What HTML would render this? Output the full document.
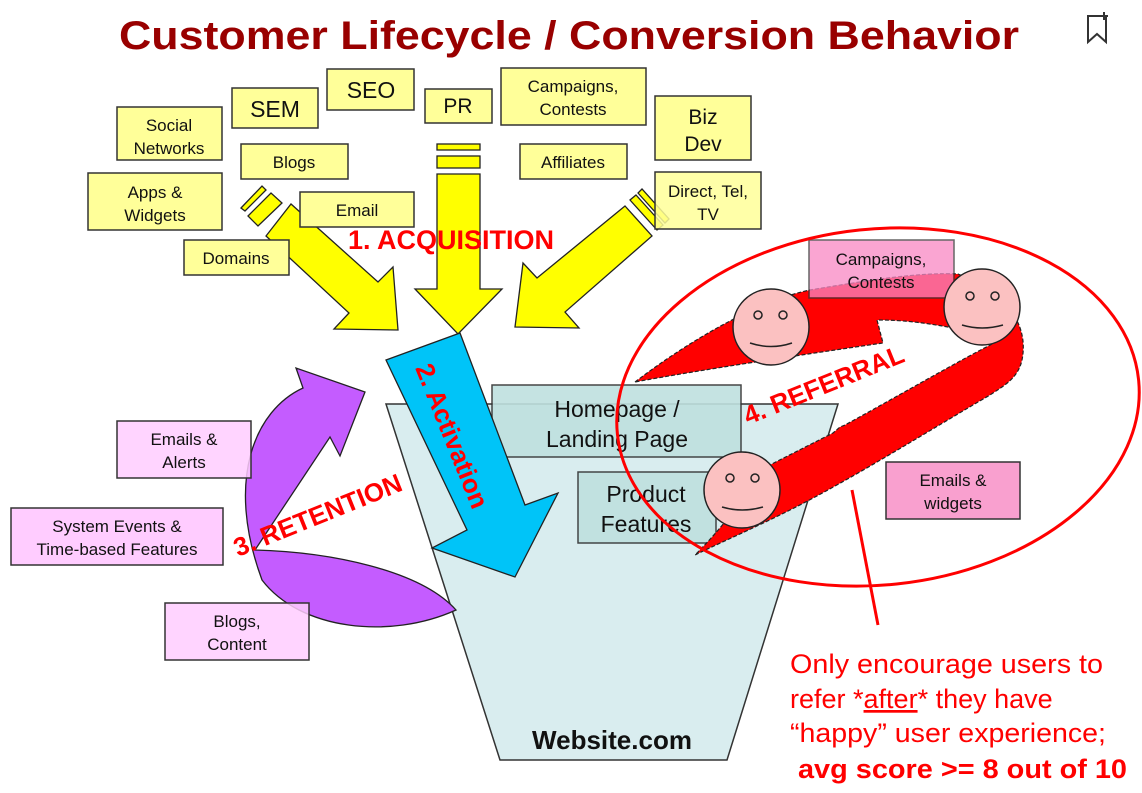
<!DOCTYPE html>
<html><head><meta charset="utf-8"><style>
html,body{margin:0;padding:0;background:#fff;}
svg{display:block;font-family:"Liberation Sans",Arial,sans-serif;}
</style></head><body>
<svg width="1142" height="793" viewBox="0 0 1142 793" xmlns="http://www.w3.org/2000/svg">
<rect width="1142" height="793" fill="#fff"/>
<text x="569" y="49" font-size="40" font-weight="bold" fill="#990000" text-anchor="middle" textLength="900" lengthAdjust="spacingAndGlyphs">Customer Lifecycle / Conversion Behavior</text>
<path d="M1088 16 h18 v26 l-9 -8 l-9 8 z" fill="none" stroke="#333" stroke-width="2"/>
<path d="M1104 12 v8 M1100 16 h8" stroke="#333" stroke-width="2"/>

<!-- funnel -->
<polygon points="386,404 838,404 727,760 500,760" fill="#d9edef" stroke="#333" stroke-width="1.5"/>
<rect x="492" y="385" width="249" height="72" fill="#bfe0df" stroke="#333" stroke-width="1.5" opacity="0.9"/>
<rect x="578" y="472" width="138" height="71" fill="#bfe0df" stroke="#333" stroke-width="1.5" opacity="0.9"/>
<text font-size="23" fill="#111" text-anchor="middle"><tspan x="617" y="417">Homepage /</tspan><tspan x="617" y="447">Landing Page</tspan></text>
<text font-size="23" fill="#111" text-anchor="middle"><tspan x="646" y="502">Product</tspan><tspan x="646" y="532">Features</tspan></text>
<text x="612" y="749" font-size="26" font-weight="bold" fill="#111" text-anchor="middle">Website.com</text>

<!-- yellow arrows -->
<g fill="#ffff00" stroke="#222" stroke-width="1.3">
<polygon points="266,236 349,313 334,329 398,330 393,267 378,282 291,204"/>
<polygon points="248,216 271,193 282,203 258,226"/>
<polygon points="241,208 262,186 266,190 245,211"/>
<polygon points="437,174 480,174 480,289 502,289 458,334 415,289 437,289"/>
<rect x="437" y="144" width="43" height="6"/>
<rect x="437" y="156" width="43" height="12"/>
<polygon points="625,206 537,278 523,263 515,327 579,328 565,312 652,236"/>
<polygon points="630,200 657,230 663,225 636,195"/>
<polygon points="638,193 665,223 669,219 642,189"/>
</g>

<!-- purple retention -->
<path d="M255,550 L330,437 L340,456 L365,392 L296,368 L303,388 C255,410 225,480 262,580 C300,630 390,640 456,610 C420,570 330,552 255,550 Z" fill="#c45cff" stroke="#222" stroke-width="1.3"/>

<!-- activation arrow -->
<polygon points="386,360 460,333 525,505 558,493 515,577 432,548 467,530" fill="#00c4f8" stroke="#222" stroke-width="1.3"/>

<!-- red referral -->
<path d="M635,382 C690,340 760,300 810,290 C870,280 920,272 958,274 C1000,290 1030,320 1022,360 C1018,378 1005,385 990,395 C930,430 850,480 790,510 C750,530 715,545 695,555 C720,530 740,505 760,470 L833,433 L840,427 L845,425 C900,395 960,360 1000,340 L948,327 C920,322 900,320 877,320 L883,343 C800,355 700,370 635,382 Z" fill="#ff0000" stroke="#222" stroke-width="1.2" stroke-dasharray="4,2"/>
<rect x="809" y="240" width="145" height="58" fill="#f988c4" stroke="#333" stroke-width="1.5" opacity="0.75"/>
<text font-size="17" fill="#111" text-anchor="middle"><tspan x="881" y="265">Campaigns,</tspan><tspan x="881" y="288">Contests</tspan></text>
<g fill="#fbc1c1" stroke="#222" stroke-width="1.5">
<circle cx="771" cy="327" r="38"/><circle cx="982" cy="307" r="38"/><circle cx="742" cy="490" r="38"/>
</g>
<g fill="none" stroke="#222" stroke-width="1.5">
<circle cx="758" cy="315" r="4"/><circle cx="783" cy="315" r="4"/><path d="M750,343 Q771,350 792,343"/>
<circle cx="970" cy="296" r="4"/><circle cx="995" cy="296" r="4"/><path d="M962,325 Q982,331 1003,325"/>
<circle cx="730" cy="478" r="4"/><circle cx="755" cy="478" r="4"/><path d="M722,507 Q742,513 763,507"/>
</g>
<ellipse cx="878" cy="407" rx="262" ry="178" fill="none" stroke="#ff0000" stroke-width="3" transform="rotate(-6 878 407)"/>
<line x1="852" y1="490" x2="878" y2="625" stroke="#ff0000" stroke-width="3"/>
<rect x="886" y="462" width="134" height="57" fill="#f9a0cf" stroke="#333" stroke-width="1.5"/>
<text font-size="17" fill="#111" text-anchor="middle"><tspan x="953" y="486">Emails &amp;</tspan><tspan x="953" y="509">widgets</tspan></text>

<!-- yellow boxes -->
<g fill="#ffff99" stroke="#333" stroke-width="1.5">
<rect x="117" y="107" width="105" height="53"/>
<rect x="88" y="173" width="134" height="57"/>
<rect x="184" y="240" width="105" height="35"/>
<rect x="232" y="88" width="86" height="40"/>
<rect x="327" y="69" width="87" height="41"/>
<rect x="241" y="144" width="107" height="35"/>
<rect x="300" y="192" width="114" height="35"/>
<rect x="425" y="89" width="67" height="34"/>
<rect x="501" y="68" width="145" height="57"/>
<rect x="520" y="144" width="107" height="35"/>
<rect x="655" y="96" width="96" height="64"/>
<rect x="655" y="172" width="106" height="57" fill-opacity="0.85"/>
</g>
<g font-size="17" fill="#111" text-anchor="middle">
<text><tspan x="169" y="131">Social</tspan><tspan x="169" y="154">Networks</tspan></text>
<text><tspan x="155" y="198">Apps &amp;</tspan><tspan x="155" y="221">Widgets</tspan></text>
<text x="236" y="264">Domains</text>
<text x="275" y="117" font-size="23">SEM</text>
<text x="371" y="98" font-size="23">SEO</text>
<text x="294" y="168">Blogs</text>
<text x="357" y="216">Email</text>
<text x="458" y="113" font-size="21">PR</text>
<text><tspan x="573" y="92">Campaigns,</tspan><tspan x="573" y="115">Contests</tspan></text>
<text x="573" y="168">Affiliates</text>
<text font-size="21"><tspan x="703" y="124">Biz</tspan><tspan x="703" y="151">Dev</tspan></text>
<text><tspan x="708" y="197">Direct, Tel,</tspan><tspan x="708" y="220">TV</tspan></text>
</g>

<!-- pink boxes -->
<g fill="#ffccff" stroke="#333" stroke-width="1.5">
<rect x="117" y="421" width="134" height="57" fill-opacity="0.85"/>
<rect x="11" y="508" width="212" height="57"/>
<rect x="165" y="603" width="144" height="57" fill-opacity="0.85"/>
</g>
<g font-size="17" fill="#111" text-anchor="middle">
<text><tspan x="184" y="445">Emails &amp;</tspan><tspan x="184" y="468">Alerts</tspan></text>
<text><tspan x="117" y="532">System Events &amp;</tspan><tspan x="117" y="555">Time-based Features</tspan></text>
<text><tspan x="237" y="627">Blogs,</tspan><tspan x="237" y="650">Content</tspan></text>
</g>

<!-- red labels -->
<g fill="#ff0000" font-weight="bold">
<text x="348" y="249" font-size="27">1. ACQUISITION</text>
<text x="0" y="0" font-size="26" transform="translate(415,368) rotate(68)">2. Activation</text>
<text x="0" y="0" font-size="26" transform="translate(238,557) rotate(-22)">3. RETENTION</text>
<text x="0" y="0" font-size="26" transform="translate(748,425) rotate(-22)">4. REFERRAL</text>
</g>
<g fill="#ff0000" font-size="27">
<text x="790" y="673" textLength="313" lengthAdjust="spacingAndGlyphs">Only encourage users to</text>
<text x="790" y="708">refer *<tspan text-decoration="underline">after</tspan>* they have</text>
<text x="790" y="742" textLength="316" lengthAdjust="spacingAndGlyphs">“happy” user experience;</text>
<text x="798" y="778" font-weight="bold" textLength="329" lengthAdjust="spacingAndGlyphs">avg score &gt;= 8 out of 10</text>
</g>
</svg>
</body></html>
